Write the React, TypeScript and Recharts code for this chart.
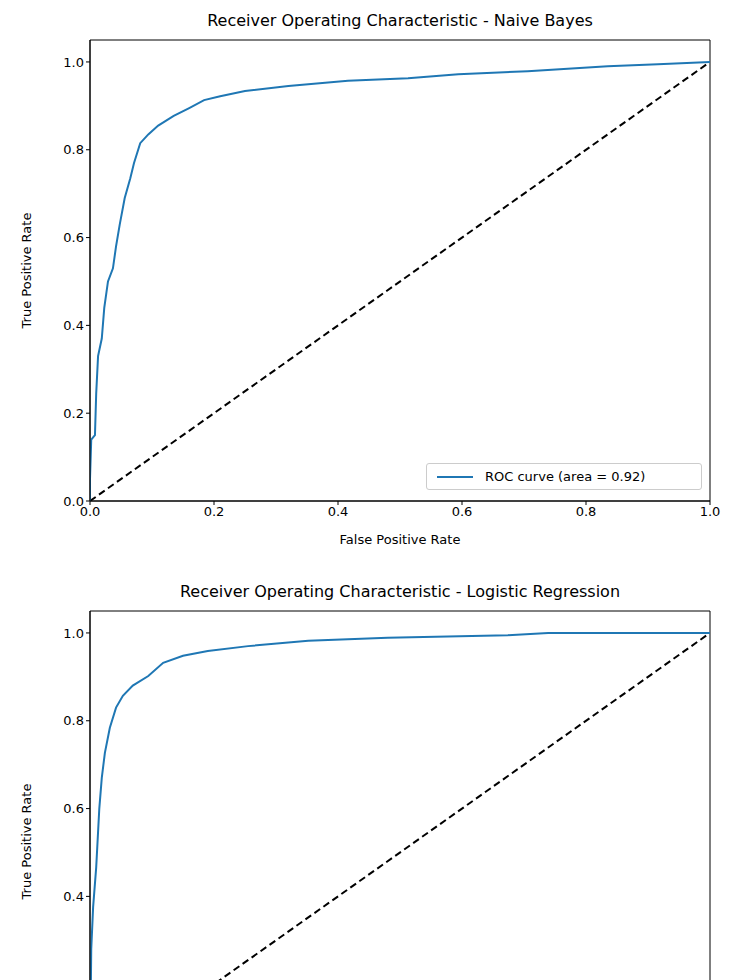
import React from "react";
import { LineChart, Line, XAxis, YAxis, ReferenceArea } from "recharts";

const nbFpr = [0, 0, 0.002, 0.008, 0.01, 0.013, 0.019, 0.023, 0.029, 0.037, 0.042, 0.048, 0.056, 0.065, 0.071, 0.081, 0.094, 0.11, 0.135, 0.16, 0.184, 0.21, 0.25, 0.32, 0.416, 0.513, 0.594, 0.706, 0.835, 0.916, 1];
const nbTpr = [0, 0.05, 0.14, 0.15, 0.245, 0.33, 0.37, 0.44, 0.5, 0.53, 0.58, 0.63, 0.69, 0.735, 0.77, 0.815, 0.835, 0.855, 0.877, 0.895, 0.913, 0.922, 0.934, 0.945, 0.957, 0.963, 0.972, 0.979, 0.99, 0.995, 1];
const lrFpr = [0, 0.002, 0.005, 0.01, 0.015, 0.019, 0.024, 0.032, 0.042, 0.053, 0.069, 0.094, 0.118, 0.15, 0.19, 0.255, 0.352, 0.48, 0.674, 0.739, 1];
const lrTpr = [0, 0.28, 0.375, 0.466, 0.6, 0.67, 0.727, 0.784, 0.83, 0.857, 0.88, 0.902, 0.932, 0.948, 0.959, 0.97, 0.982, 0.989, 0.995, 1, 1];
const diagonal = [{ x: 0, y: 0 }, { x: 1, y: 1 }];
const ticks = [0, 0.2, 0.4, 0.6, 0.8, 1.0];

const font = "DejaVu Sans, sans-serif";
const fmt = (v: number) => v.toFixed(1);

function Roc({ title, fpr, tpr, area, top }: { title: string; fpr: number[]; tpr: number[]; area: string; top: number }) {
  const data = fpr.map((x, i) => ({ x, y: tpr[i] }));
  const tickStyle = { fill: "#000", fontSize: 13, fontFamily: font };
  return (
    <div style={{ position: "absolute", left: 0, top, width: 745, height: 560 }}>
      <div style={{ position: "absolute", top: 3, left: 82, width: 620, textAlign: "center", fontFamily: font, fontSize: 16, color: "#000", zIndex: 2 }}>{title}</div>
      <LineChart width={745} height={560} margin={{ top: 32, right: 43, left: 32, bottom: 22 }} data={data}>
        <XAxis dataKey="x" type="number" domain={[0, 1]} ticks={ticks} tickFormatter={fmt} stroke="#000" tick={tickStyle} tickSize={4} height={45} allowDataOverflow
          label={{ value: "False Positive Rate", position: "insideBottom", offset: 2, style: { fill: "#000", fontSize: 13, fontFamily: font } }} />
        <YAxis type="number" domain={[0, 1.05]} ticks={ticks} tickFormatter={fmt} stroke="#000" tick={tickStyle} tickSize={4} width={50} allowDataOverflow
          label={{ value: "True Positive Rate", angle: -90, position: "insideLeft", offset: -14, style: { fill: "#000", fontSize: 13, fontFamily: font, textAnchor: "middle" } }} />
        <ReferenceArea x1={0} x2={1} y1={0} y2={1.05} fill="none" stroke="#000" strokeWidth={1} ifOverflow="visible" />
        <Line data={diagonal} dataKey="y" stroke="#000" strokeWidth={2} strokeDasharray="7 4" dot={false} isAnimationActive={false} legendType="none" />
        <Line dataKey="y" name={`ROC curve (area = ${area})`} stroke="#1f77b4" strokeWidth={2} dot={false} isAnimationActive={false} />
      </LineChart>
      <div style={{ position: "absolute", left: 418, top: 455, border: "1px solid #ccc", borderRadius: 3, background: "#fff", padding: "5px 8px", display: "flex", alignItems: "center", fontFamily: font, fontSize: 13, width: 258, boxSizing: "content-box" }}>
        <svg width={40} height={10}><line x1={2} y1={5} x2={38} y2={5} stroke="#1f77b4" strokeWidth={2} /></svg>
        <span style={{ marginLeft: 10 }}>{`ROC curve (area = ${area})`}</span>
      </div>
    </div>
  );
}

export default function App() {
  return (
    <div style={{ position: "relative", width: 745, height: 980, overflow: "hidden", background: "#fff" }}>
      <Roc title="Receiver Operating Characteristic - Naive Bayes" fpr={nbFpr} tpr={nbTpr} area="0.92" top={0} />
      <Roc title="Receiver Operating Characteristic - Logistic Regression" fpr={lrFpr} tpr={lrTpr} area="0.95" top={571} />
    </div>
  );
}
